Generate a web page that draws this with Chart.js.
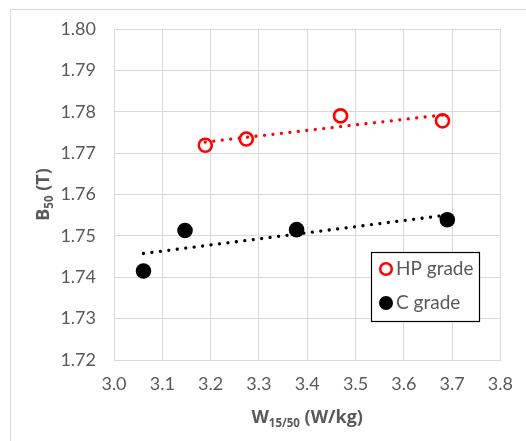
<!DOCTYPE html>
<html>
<head>
<meta charset="utf-8">
<script src="https://cdn.jsdelivr.net/npm/chart.js@4/dist/chart.umd.min.js"></script>
<style>
  html, body { margin: 0; padding: 0; background: #fff; }
  #wrap { position: relative; width: 526px; height: 441px; overflow: hidden; }
  #frame { position: absolute; left: 10px; top: 9px; width: 540px; height: 450px; border: 1px solid #d9d9d9; box-sizing: border-box; }
  canvas { position: absolute; left: 0; top: 0; }
</style>
</head>
<body>
<div id="wrap">
  <div id="frame"></div>
  <canvas id="canvas" width="526" height="441"></canvas>
</div>
<script>
// datos
const hpX = [3.189, 3.274, 3.469, 3.680];
const hpY = [1.7719, 1.7734, 1.7790, 1.7778];
const cX = [3.061, 3.147, 3.378, 3.690];
const cY = [1.7415, 1.7513, 1.7515, 1.7539];
const xTicks = [3.0, 3.1, 3.2, 3.3, 3.4, 3.5, 3.6, 3.7, 3.8];
const yTicks = [1.72, 1.73, 1.74, 1.75, 1.76, 1.77, 1.78, 1.79, 1.80];

const fuente = "Lato, 'Open Sans', sans-serif";
const fuenteTitulo = "'Open Sans', Roboto, sans-serif";
const gris = "#595959";

function puntos(xs, ys){
    return xs.map((x, i) => ({x: x, y: ys[i]}));
}
function tendencia(xs, ys){
    // recta de minimos cuadrados, como la linea de tendencia de Excel
    const n = xs.length;
    const mx = xs.reduce((a, b) => a + b, 0) / n;
    const my = ys.reduce((a, b) => a + b, 0) / n;
    let sxy = 0, sxx = 0;
    for (let i = 0; i < n; i++){
        sxy += (xs[i] - mx) * (ys[i] - my);
        sxx += (xs[i] - mx) * (xs[i] - mx);
    }
    const m = sxy / sxx;
    const x0 = Math.min(...xs), x1 = Math.max(...xs);
    return [{x: x0, y: my + m * (x0 - mx)}, {x: x1, y: my + m * (x1 - mx)}];
}

const titulos = {
    id: "titulos",
    afterDraw(chart){
        const ctx = chart.ctx;
        const area = chart.chartArea;
        ctx.save();
        ctx.fillStyle = gris;
        ctx.textBaseline = "alphabetic";
        // eje x
        const partesX = [["W", 18, 0], ["15/50", 11.5, 4], [" (W/kg)", 18, 0]];
        dibujarPartes(ctx, partesX, (area.left + area.right) / 2, 423);
        // eje y
        ctx.translate(49, (area.top + area.bottom) / 2);
        ctx.rotate(-Math.PI / 2);
        const partesY = [["B", 18, 0], ["50", 11.5, 4], [" (T)", 18, 0]];
        dibujarPartes(ctx, partesY, 0, 0);
        ctx.restore();

        // leyenda
        ctx.save();
        const lx = 371.5, ly = 252.5, lw = 108, lh = 69;
        ctx.fillStyle = "#fff";
        ctx.fillRect(lx, ly, lw, lh);
        ctx.strokeStyle = "#000";
        ctx.lineWidth = 1.2;
        ctx.strokeRect(lx, ly, lw, lh);
        ctx.beginPath();
        ctx.arc(386, 269, 5.8, 0, Math.PI * 2);
        ctx.strokeStyle = "#ff0000";
        ctx.lineWidth = 2.6;
        ctx.stroke();
        ctx.beginPath();
        ctx.arc(386, 303, 7, 0, Math.PI * 2);
        ctx.fillStyle = "#000";
        ctx.fill();
        ctx.fillStyle = gris;
        ctx.font = "19px " + fuente;
        ctx.textBaseline = "middle";
        ctx.fillText("HP grade", 396, 269);
        ctx.fillText("C grade", 396, 303);
        ctx.restore();
    }
};
function dibujarPartes(ctx, partes, cx, base){
    let total = 0;
    partes.forEach(p => {
        ctx.font = "bold " + p[1] + "px " + fuenteTitulo;
        total += ctx.measureText(p[0]).width;
    });
    let x = cx - total / 2;
    ctx.textAlign = "left";
    partes.forEach(p => {
        ctx.font = "bold " + p[1] + "px " + fuenteTitulo;
        ctx.fillText(p[0], x, base + p[2]);
        x += ctx.measureText(p[0]).width;
    });
}

const data = {
    datasets: [
        {
            label: "HP grade trend",
            data: tendencia(hpX, hpY),
            showLine: true,
            borderColor: "#ff0000",
            borderWidth: 3.3,
            borderDash: [0.01, 8.5],
            borderCapStyle: "round",
            pointRadius: 0,
            order: 3
        },
        {
            label: "C grade trend",
            data: tendencia(cX, cY),
            showLine: true,
            borderColor: "#000",
            borderWidth: 3.3,
            borderDash: [0.01, 8.5],
            borderCapStyle: "round",
            pointRadius: 0,
            order: 3
        },
        {
            label: "HP grade",
            data: puntos(hpX, hpY),
            pointRadius: 6.5,
            pointBorderWidth: 2.6,
            pointBorderColor: "#ff0000",
            pointBackgroundColor: "rgba(255,255,255,0)",
            order: 1
        },
        {
            label: "C grade",
            data: puntos(cX, cY),
            pointRadius: 7.8,
            pointBorderWidth: 0,
            pointBackgroundColor: "#000",
            pointBorderColor: "#000",
            order: 2
        }
    ]
};

const options = {
    responsive: false,
    animation: false,
    devicePixelRatio: 1,
    layout: { padding: { top: 29, right: 20, left: 0, bottom: 0 } },
    plugins: { legend: { display: false }, tooltip: { enabled: false } },
    scales: {
        x: {
            type: "linear",
            min: xTicks[0],
            max: xTicks[xTicks.length - 1],
            afterBuildTicks: s => { s.ticks = xTicks.map(v => ({value: v})); },
            afterFit: s => { s.height = 81; },
            grid: { color: "#d9d9d9", lineWidth: 1, drawTicks: false },
            border: { color: "#d9d9d9" },
            ticks: {
                padding: 13,
                color: gris,
                font: { family: fuente, size: 18 },
                callback: v => Number(v).toFixed(1)
            }
        },
        y: {
            type: "linear",
            min: yTicks[0],
            max: yTicks[yTicks.length - 1],
            afterBuildTicks: s => { s.ticks = yTicks.map(v => ({value: v})); },
            afterFit: s => { s.width = 114; },
            grid: { color: "#d9d9d9", lineWidth: 1, drawTicks: false },
            border: { color: "#d9d9d9" },
            ticks: {
                padding: 18,
                color: gris,
                font: { family: fuente, size: 18 },
                callback: v => Number(v).toFixed(2)
            }
        }
    }
};

new Chart(document.getElementById("canvas").getContext("2d"), {
    type: "scatter",
    data: data,
    options: options,
    plugins: [titulos]
});
</script>
</body>
</html>
